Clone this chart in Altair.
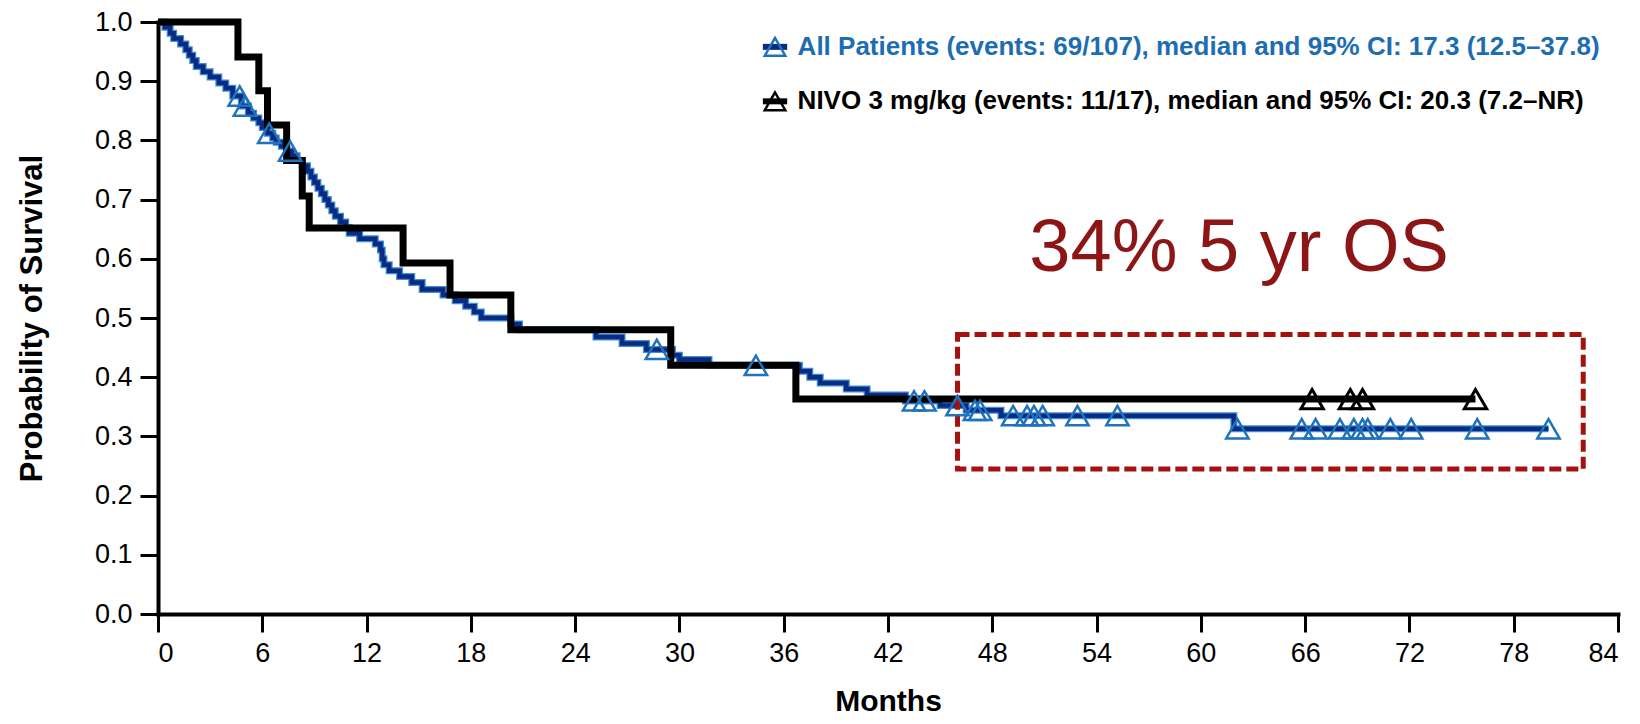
import altair as alt
import pandas as pd

# ---- data ----
blue_t = [0, 0.4, 0.7, 0.9, 1.3, 1.6, 1.8, 2.0, 2.2, 2.6, 3.0, 3.5, 3.9, 4.3, 4.8, 5.2, 5.5, 5.8,
          6.0, 6.3, 6.6, 6.8, 7.1, 7.4, 7.7, 8.0, 8.3, 8.6, 8.8, 9.0, 9.2, 9.4, 9.6, 9.8, 10.0,
          10.2, 10.5, 10.8, 11.0, 11.6, 12.5, 12.8, 12.9, 13.0, 13.3, 13.9, 14.6, 15.2, 16.4,
          17.1, 17.7, 18.2, 18.6, 20.3, 20.8, 25.2, 26.7, 28.1, 29.6, 30.0, 31.7, 36.9, 37.5,
          38.1, 39.6, 40.8, 43.0, 45.0, 46.5, 48.5, 61.9, 80.0]
blue_s = [1.0, 0.991, 0.981, 0.972, 0.963, 0.953, 0.944, 0.935, 0.925, 0.916, 0.907, 0.897,
          0.888, 0.875, 0.858, 0.846, 0.838, 0.830, 0.822, 0.812, 0.804, 0.797, 0.790, 0.782,
          0.774, 0.766, 0.757, 0.748, 0.738, 0.729, 0.719, 0.71, 0.70, 0.691, 0.681, 0.672,
          0.662, 0.653, 0.643, 0.634, 0.625, 0.615, 0.60, 0.59, 0.58, 0.57, 0.56, 0.548, 0.539,
          0.529, 0.52, 0.51, 0.50, 0.49, 0.48, 0.468, 0.457, 0.447, 0.437, 0.43, 0.42, 0.41,
          0.40, 0.39, 0.38, 0.37, 0.36, 0.352, 0.344, 0.335, 0.313, 0.313]
blue_censor = [4.7, 5.0, 6.4, 7.6, 28.7, 34.4, 43.5, 44.1, 46.0, 47.0, 47.3, 49.2, 50.0, 50.4,
               50.9, 52.9, 55.2, 62.1, 65.8, 66.6, 68.0, 68.8, 69.3, 69.6, 70.9, 72.1, 75.9, 80.0]

black_t = [0, 4.6, 5.8, 6.3, 7.4, 8.3, 8.7, 14.1, 16.8, 20.3, 29.5, 36.7, 75.8]
black_s = [1.0, 0.941, 0.884, 0.826, 0.766, 0.706, 0.652, 0.593, 0.539, 0.48, 0.42, 0.363, 0.363]
black_censor = [66.4, 68.6, 69.3, 75.8]

legend_labels = ["All Patients (events: 69/107), median and 95% CI: 17.3 (12.5\u201337.8)",
                 "NIVO 3 mg/kg (events: 11/17), median and 95% CI: 20.3 (7.2\u2013NR)"]
legend_colors = ["#1d6db3", "#000000"]
legend_y = [0.958, 0.866]

x_ticks = list(range(0, 85, 6))
y_ticks = [0.0, 0.1, 0.2, 0.3, 0.4, 0.5, 0.6, 0.7, 0.8, 0.9, 1.0]

annot_text = "34% 5 yr OS"
box = {"x": 46.0, "x2": 82.0, "y": 0.245, "y2": 0.472}

# ---- helpers ----
FONT = "Liberation Sans"


def step_value(ts, ss, t):
    v = ss[0]
    for ti, si in zip(ts, ss):
        if ti <= t:
            v = si
    return v


blue_df = pd.DataFrame({"t": blue_t, "s": blue_s})
black_df = pd.DataFrame({"t": black_t, "s": black_s})
bc_df = pd.DataFrame({"t": blue_censor, "s": [step_value(blue_t, blue_s, t) for t in blue_censor]})
kc_df = pd.DataFrame({"t": black_censor, "s": [step_value(black_t, black_s, t) for t in black_censor]})

xscale = alt.Scale(domain=[0, 84], nice=False, zero=True)
yscale = alt.Scale(domain=[0, 1], nice=False, zero=True)
xaxis = alt.Axis(values=x_ticks, title="Months", grid=False, labelFontSize=27,
                 titleFontSize=30, labelPadding=8, titlePadding=44,
                 titleBaseline="alphabetic")
yaxis = alt.Axis(values=y_ticks, format=".1f", title="Probability of Survival", grid=False,
                 labelFontSize=27, titleFontSize=31, labelPadding=8, titlePadding=46)


def X(field="t"):
    return alt.X(f"{field}:Q", scale=xscale, axis=xaxis)


def Y(field="s"):
    return alt.Y(f"{field}:Q", scale=yscale, axis=yaxis)


blue_halo = alt.Chart(blue_df).mark_line(interpolate="step-after", color="#3c8fd6",
                                         strokeWidth=7).encode(x=X(), y=Y())
blue_line = alt.Chart(blue_df).mark_line(interpolate="step-after", color="#0b2a82",
                                         strokeWidth=4.5).encode(x=X(), y=Y())
black_line = alt.Chart(black_df).mark_line(interpolate="step-after", color="#000000",
                                           strokeWidth=7).encode(x=X(), y=Y())
blue_tri = alt.Chart(bc_df).mark_point(shape="triangle-up", size=500, filled=False,
                                       color="#1f72bd", strokeWidth=2.5,
                                       opacity=1).encode(x=X(), y=Y())
black_tri = alt.Chart(kc_df).mark_point(shape="triangle-up", size=500, filled=False,
                                        color="#000000", strokeWidth=3,
                                        opacity=1).encode(x=X(), y=Y())

# legend (symbols + text)
leg_sym = pd.DataFrame({"x": [34.8, 34.8], "x2": [36.2, 36.2], "xc": [35.5, 35.5],
                        "y": legend_y, "c": ["#0b2a82", "#000000"],
                        "tc": ["#1f72bd", "#000000"]})
leg_line = alt.Chart(leg_sym).mark_rule(strokeWidth=6).encode(
    x=alt.X("x:Q", scale=xscale, axis=xaxis), x2="x2:Q",
    y=alt.Y("y:Q", scale=yscale, axis=yaxis), color=alt.Color("c:N", scale=None))
leg_tri = alt.Chart(leg_sym).mark_point(shape="triangle-up", size=420, filled=False,
                                        strokeWidth=2.5, opacity=1).encode(
    x=alt.X("xc:Q", scale=xscale, axis=xaxis), y=alt.Y("y:Q", scale=yscale, axis=yaxis),
    color=alt.Color("tc:N", scale=None))
leg_df = pd.DataFrame({"label": legend_labels, "x": [36.8, 36.8], "y": legend_y,
                       "c": legend_colors})
leg_text = alt.Chart(leg_df).mark_text(align="left", baseline="middle", font=FONT,
                                       fontSize=26, fontWeight="bold").encode(
    x=alt.X("x:Q", scale=xscale, axis=xaxis), y=alt.Y("y:Q", scale=yscale, axis=yaxis),
    text="label:N", color=alt.Color("c:N", scale=None))

annot = alt.Chart(pd.DataFrame({"x": [62.2], "y": [0.617], "txt": [annot_text]})).mark_text(
    align="center", baseline="middle", font=FONT, fontSize=74, color="#8c1515").encode(
    x=alt.X("x:Q", scale=xscale, axis=xaxis), y=alt.Y("y:Q", scale=yscale, axis=yaxis),
    text="txt:N")

rect = alt.Chart(pd.DataFrame([box])).mark_rect(fillOpacity=0, stroke="#a3120e",
                                                strokeWidth=5, strokeDash=[12, 5]).encode(
    x=alt.X("x:Q", scale=xscale, axis=xaxis), x2="x2:Q",
    y=alt.Y("y:Q", scale=yscale, axis=yaxis), y2="y2:Q")

chart = alt.layer(blue_halo, blue_line, black_line, rect, blue_tri, black_tri,
                  leg_line, leg_tri, leg_text, annot).properties(
    width=1460, height=592,
    autosize=alt.AutoSizeParams(type="none"),
    padding={"left": 150, "top": 14, "right": 14, "bottom": 102},
).configure_view(stroke=None).configure_axis(
    domainColor="#000000", domainWidth=4, tickColor="#000000", tickWidth=3, tickSize=18,
    labelFont=FONT, labelColor="#000000", titleFont=FONT, titleFontWeight="bold",
    titleColor="#000000", domainCap="square"
)

chart.save("out.html", embed_options={"renderer": "svg", "actions": False})
